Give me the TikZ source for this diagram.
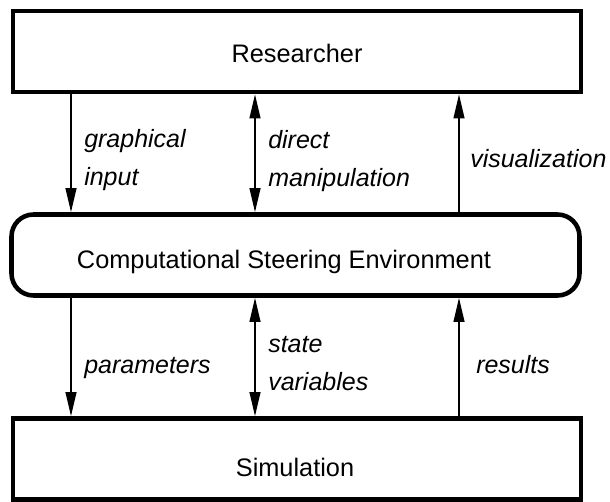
\documentclass[tikz,border=0pt]{standalone}
\usepackage{fontspec}
\setmainfont{Liberation Sans}
\usetikzlibrary{arrows.meta}

\tikzset{
  box/.style={draw, line width=3.4pt, minimum width=426pt, minimum height=60.75pt, inner sep=0pt},
  envbox/.style={box, rounded corners=16.5pt},
  head/.tip={Triangle[length=18pt, width=8pt]},
  flow/.style={line width=1.5pt, -head},
  twoway/.style={line width=1.5pt, head-head},
  lbl/.style={font=\fontsize{18.75}{28.5}\selectfont\itshape, align=left, inner sep=0pt, anchor=base west},
  boxtext/.style={inner sep=0pt, anchor=base}
}

\begin{document}
\begin{tikzpicture}[x=0.75pt, y=-0.75pt, font=\fontsize{19}{28.5}\selectfont]
  \useasboundingbox (0,0) rectangle (610,502);

  % boxes
  \node[box]    (R) at (297, 51.5) {};
  \node[envbox] (C) at (295.5, 255) {};
  \node[box]    (S) at (297, 459) {};

  \node[boxtext] (Rtext) at (297, 63)  {Researcher};
  \node[boxtext] (Ctext) at (284, 268) {Computational Steering Environment};
  \node[boxtext] (Stext) at (295, 476) {Simulation};

  % arrow columns
  \coordinate (xl) at (71, 0);
  \coordinate (xm) at (255, 0);
  \coordinate (xr) at (459, 0);

  \draw[flow]   (R.south -| xl) -- (C.north -| xl);
  \draw[twoway] (R.south -| xm) -- (C.north -| xm);
  \draw[flow]   (C.north -| xr) -- (R.south -| xr);

  \draw[flow]   (C.south -| xl) -- (S.north -| xl);
  \draw[twoway] (C.south -| xm) -- (S.north -| xm);
  \draw[flow]   (S.north -| xr) -- (C.south -| xr);

  % labels (base = last line)
  \node[lbl] (gin) at (84, 186)  {graphical\\input};
  \node[lbl] (dm)  at (268, 187) {direct\\manipulation};
  \node[lbl] (vis) at (470, 168) {visualization};
  \node[lbl] (par) at (84, 373)  {parameters};
  \node[lbl] (sv)  at (268, 390) {state\\variables};
  \node[lbl] (res) at (476, 373) {results};
\end{tikzpicture}
\end{document}
